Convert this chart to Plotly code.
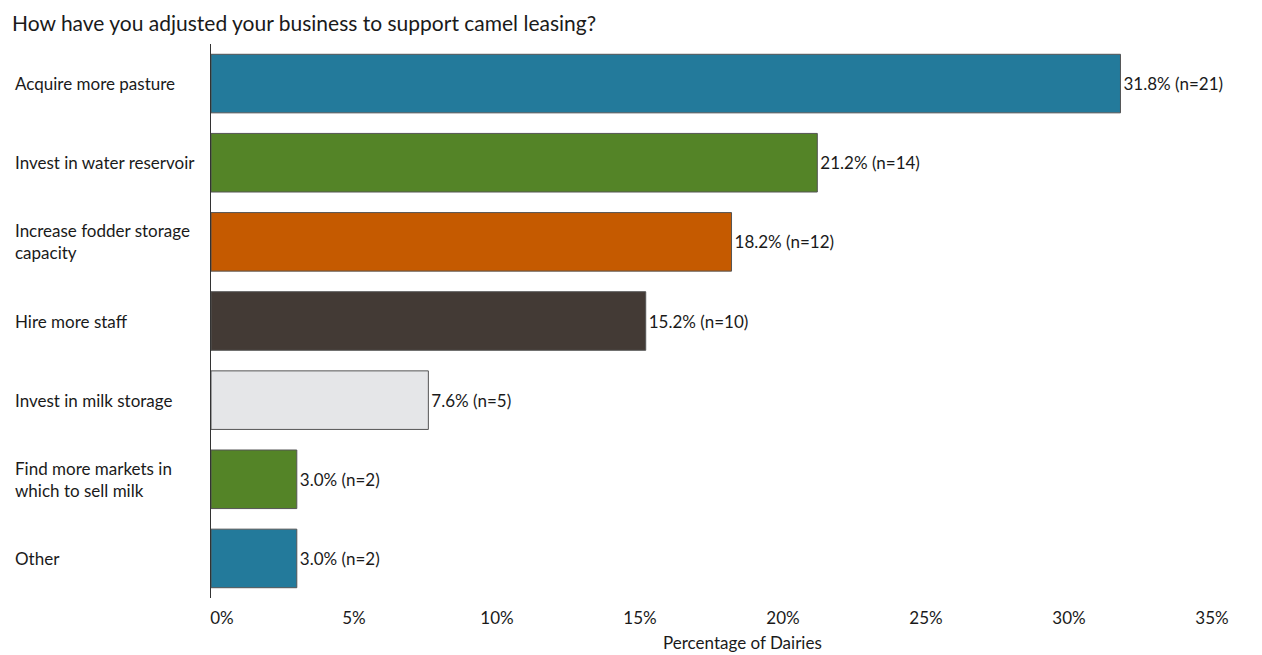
import plotly.graph_objects as go

categories = [
    "Acquire more pasture",
    "Invest in water reservoir",
    "Increase fodder storage<br>capacity",
    "Hire more staff",
    "Invest in milk storage",
    "Find more markets in<br>which to sell milk",
    "Other",
]
percentages = [31.8, 21.2, 18.2, 15.2, 7.6, 3.0, 3.0]
counts = [21, 14, 12, 10, 5, 2, 2]
bar_colors = ["#237A9B", "#548427", "#C55A00", "#433A35", "#E5E6E8", "#548427", "#237A9B"]
tick_values = [0, 5, 10, 15, 20, 25, 30, 35]
tick_labels = ["\u00a0\u00a0\u00a0\u00a0\u00a00%", "5%", "10%", "15%", "20%", "25%", "30%", "35%"]

FONT = "Lato"
TEXT_COLOR = "#1a1a1a"

labels = [f"{p:.1f}% (n={n})" for p, n in zip(percentages, counts)]

fig = go.Figure(
    go.Bar(
        x=percentages,
        y=categories,
        orientation="h",
        marker=dict(color=bar_colors, line=dict(color="#555555", width=1)),
        text=labels,
        textposition="outside",
        cliponaxis=False,
        textfont=dict(family=FONT, size=17, color=TEXT_COLOR),
        width=0.74,
        hoverinfo="skip",
    )
)

# left-aligned category labels
for cat in categories:
    fig.add_annotation(
        x=0, xref="paper", xshift=-198, xanchor="left",
        y=cat, yref="y", yanchor="middle",
        text=cat, showarrow=False, align="left",
        font=dict(family=FONT, size=17, color=TEXT_COLOR),
    )

fig.add_annotation(
    x=(742 - 211) / (1212 - 211), xref="paper", xanchor="center",
    y=0, yref="paper", yshift=-44, yanchor="middle",
    text="Percentage of Dairies", showarrow=False,
    font=dict(family=FONT, size=17, color=TEXT_COLOR),
)

fig.update_layout(
    width=1262,
    height=655,
    margin=dict(l=211, r=50, t=44, b=57),
    paper_bgcolor="white",
    plot_bgcolor="white",
    showlegend=False,
    title=dict(
        text="How have you adjusted your business to support camel leasing?",
        x=12 / 1262, xanchor="left", xref="container",
        y=1 - 24 / 655, yanchor="middle", yref="container",
        font=dict(family=FONT, size=21, color=TEXT_COLOR),
    ),
    xaxis=dict(
        range=[0, 35],
        tickvals=tick_values,
        ticktext=tick_labels,
        showgrid=False,
        zeroline=False,
        showline=False,
        ticks="",
        ticklabelstandoff=8,
        tickfont=dict(family=FONT, size=17, color=TEXT_COLOR),
    ),
    yaxis=dict(
        autorange="reversed",
        showticklabels=False,
        showgrid=False,
        showline=True,
        linecolor="#333333",
        linewidth=1,
        ticks="",
    ),
)

fig.write_html("out.html")
